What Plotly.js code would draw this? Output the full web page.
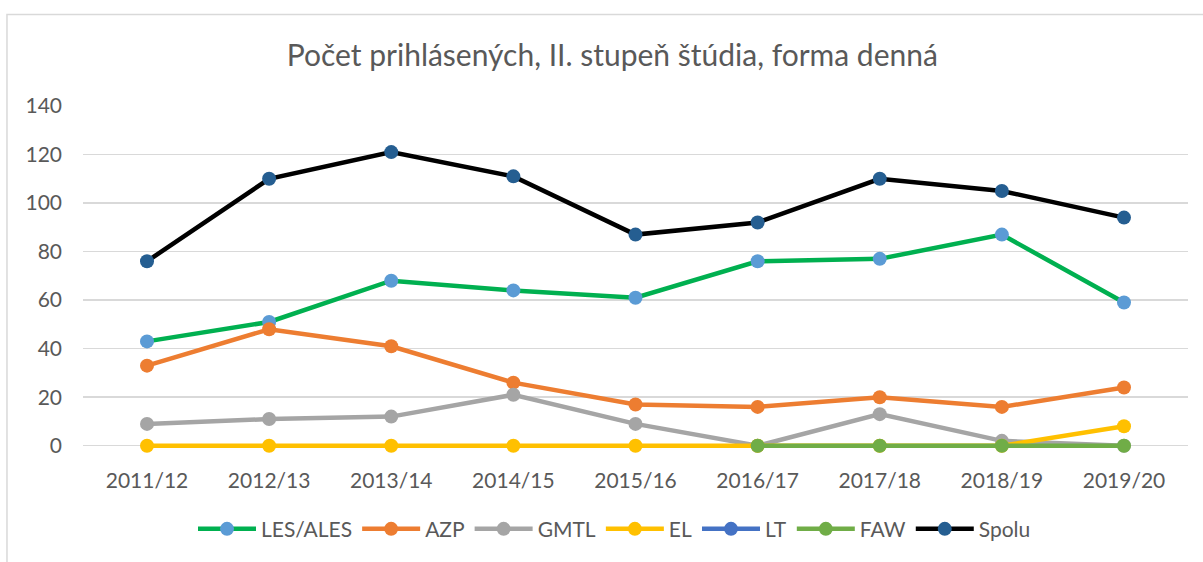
<!DOCTYPE html>
<html>
<head>
<meta charset="utf-8">
<script src="https://cdn.plot.ly/plotly-3.0.1.min.js"></script>
<style>html,body{margin:0;padding:0;background:#fff;}#chart{width:1203px;height:562px;}</style>
</head>
<body>
<div id="chart"></div>
<script>
const years = ["2011/12","2012/13","2013/14","2014/15","2015/16","2016/17","2017/18","2018/19","2019/20"];
const lesAles = [43, 51, 68, 64, 61, 76, 77, 87, 59];
const azp     = [33, 48, 41, 26, 17, 16, 20, 16, 24];
const gmtl    = [9, 11, 12, 21, 9, 0, 13, 2, 0];
const el      = [0, 0, 0, 0, 0, 0, 0, 0, 8];
const lt      = [null, null, null, null, null, null, null, null, null];
const faw     = [null, null, null, null, null, 0, 0, 0, 0];
const spolu   = [76, 110, 121, 111, 87, 92, 110, 105, 94];

const FONT = "Lato, 'Open Sans', sans-serif";
const GREY = "#595959";

function tr(name, y, lineColor, markerColor) {
  return {
    type: "scatter", mode: "lines+markers", name: name, x: years, y: y,
    line: {color: lineColor, width: 4.5},
    marker: {color: markerColor, size: 14},
    cliponaxis: false
  };
}

const data = [
  tr("LES/ALES", lesAles, "#00B050", "#5B9BD5"),
  tr("AZP", azp, "#ED7D31", "#ED7D31"),
  tr("GMTL", gmtl, "#A5A5A5", "#A5A5A5"),
  tr("EL", el, "#FFC000", "#FFC000"),
  tr("LT", lt, "#4472C4", "#4472C4"),
  tr("FAW", faw, "#70AD47", "#70AD47"),
  tr("Spolu", spolu, "#000000", "#255E91")
];

const layout = {
  width: 1203, height: 562,
  margin: {l: 83, r: 15, t: 106, b: 106.7},
  paper_bgcolor: "#fff", plot_bgcolor: "#fff",
  font: {family: FONT, color: GREY, size: 18},
  title: {text: "Počet prihlásených, II. stupeň štúdia, forma denná",
          font: {family: FONT, size: 30, color: GREY},
          x: 0.509, xanchor: "center", xref: "container",
          y: 0.902, yanchor: "middle", yref: "container"},
  xaxis: {type: "category", showgrid: false, zeroline: false,
          showline: false, ticks: "", ticklabelstandoff: 13,
          tickfont: {family: FONT, size: 21, color: GREY},
          fixedrange: true},
  yaxis: {range: [-3, 140], tick0: 0, dtick: 20, showgrid: true, gridcolor: "#D9D9D9", gridwidth: 1.5,
          zeroline: false, showline: false, ticks: "", ticklabelstandoff: 20,
          tickfont: {family: FONT, size: 21, color: GREY}},
  showlegend: true,
  legend: {orientation: "h", x: 0.481, xanchor: "center", y: -0.2196, yanchor: "middle",
           font: {family: FONT, size: 21, color: GREY}, itemwidth: 58, tracegroupgap: 0},
  shapes: [
    {type: "rect", xref: "paper", yref: "paper", x0: -0.0688, x1: 1.05, y0: 1.2634, y1: -0.4,
     line: {color: "#D9D9D9", width: 1.5}, layer: "below"}
  ]
};

Plotly.newPlot("chart", data, layout, {staticPlot: true, displayModeBar: false});
</script>
</body>
</html>
